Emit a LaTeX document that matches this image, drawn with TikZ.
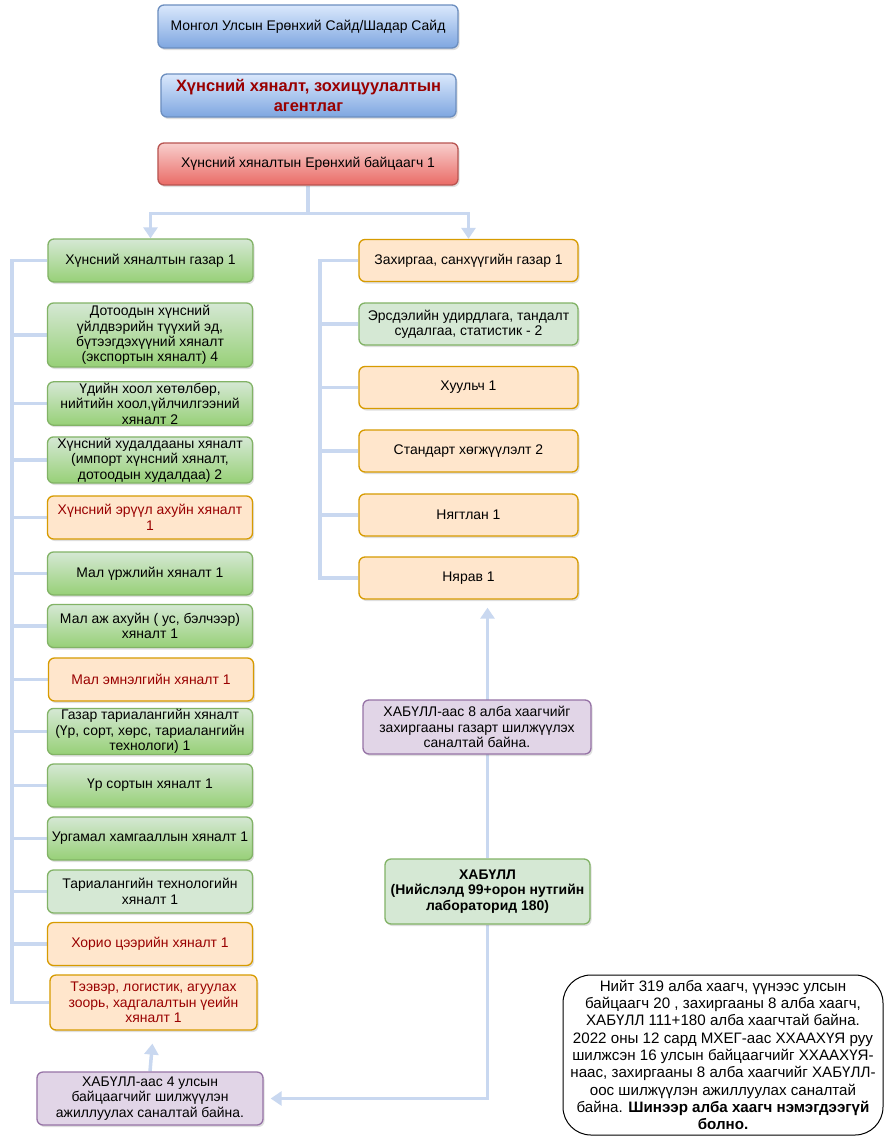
\documentclass[tikz,border=0pt]{standalone}
\usepackage{fontspec}
\setmainfont{Liberation Sans}
\usetikzlibrary{arrows.meta,shadows,backgrounds}
\definecolor{blueF}{HTML}{DAE8FC}
\definecolor{blueG}{HTML}{7EA6E0}
\definecolor{blueD}{HTML}{6C8EBF}
\definecolor{redF}{HTML}{F8CECC}
\definecolor{redG}{HTML}{EA6B66}
\definecolor{redD}{HTML}{B85450}
\definecolor{greenF}{HTML}{D5E8D4}
\definecolor{greenG}{HTML}{97D077}
\definecolor{greenD}{HTML}{82B366}
\definecolor{orF}{HTML}{FFE6CC}
\definecolor{orD}{HTML}{D79B00}
\definecolor{puF}{HTML}{E1D5E7}
\definecolor{puD}{HTML}{9673A6}
\definecolor{txred}{HTML}{990000}
\definecolor{connc}{HTML}{C9D8F0}
\begin{document}
\begin{tikzpicture}[x=1bp,y=-1bp,
  font=\fontsize{14}{15.5}\selectfont,
  box/.style={rounded corners=6bp, line width=1.3bp, align=center, inner sep=1bp,
    drop shadow={opacity=0.25, shadow xshift=1.5bp, shadow yshift=-2bp}},
  bluebox/.style={box, draw=blueD, top color=blueF, bottom color=blueG},
  redbox/.style={box, draw=redD, top color=redF, bottom color=redG},
  greenbox/.style={box, draw=greenD, top color=greenF, bottom color=greenG},
  lgreenbox/.style={box, draw=greenD, fill=greenF},
  orbox/.style={box, draw=orD, fill=orF},
  pubox/.style={box, draw=puD, fill=puF},
  lcol/.style={minimum width=205bp, minimum height=43bp},
  rcol/.style={minimum width=219bp, minimum height=42bp},
  conn/.style={draw=connc, line width=3.5bp},
  arr/.style={-{Triangle[width=14bp,length=11bp]}}
]
\useasboundingbox (0,0) rectangle (885,1137);

% top
\node[bluebox, minimum width=300bp, minimum height=43bp] (b1) at (308,26.5) {Монгол Улсын Ерөнхий Сайд/Шадар Сайд};
\node[bluebox, minimum width=295bp, minimum height=43bp, text=txred, font=\fontsize{16.5}{19.5}\selectfont\bfseries] (b2) at (308.5,95.5) {Хүнсний хяналт, зохицуулалтын\\агентлаг};
\node[redbox, minimum width=300bp, minimum height=42bp] (b3) at (308,164) {Хүнсний хяналтын Ерөнхий байцаагч 1};

% left column
\node[greenbox, lcol] (l1) at (150.5,260.5) {Хүнсний хяналтын газар 1};
\node[greenbox, lcol, minimum height=64bp] (l2) at (150,335) {Дотоодын хүнсний\\үйлдвэрийн түүхий эд,\\бүтээгдэхүүний хяналт\\(экспортын хяналт) 4};
\node[greenbox, lcol] (l3) at (150,403.5) {Үдийн хоол хөтөлбөр,\\нийтийн хоол,үйлчилгээний\\хяналт 2};
\node[greenbox, lcol, minimum height=44bp] (l4) at (150,460) {Хүнсний худалдааны хяналт\\(импорт хүнсний хяналт,\\дотоодын худалдаа) 2};
\node[orbox, lcol, text=txred] (l5) at (150,517.5) {Хүнсний эрүүл ахуйн хяналт\\1};
\node[greenbox, lcol] (l6) at (150,573.5) {Мал үржлийн хяналт 1};
\node[greenbox, lcol] (l7) at (150,626) {Мал аж ахуйн ( ус, бэлчээр)\\хяналт 1};
\node[orbox, lcol, text=txred] (l8) at (151,679.5) {Мал эмнэлгийн хяналт 1};
\node[greenbox, lcol] (l9) at (150,731.5) {Газар тариалангийн хяналт\\(Үр, сорт, хөрс, тариалангийн\\технологи) 1};
\node[greenbox, lcol] (l10) at (150,785.5) {Үр сортын хяналт 1};
\node[greenbox, lcol] (l11) at (150,838.5) {Ургамал хамгааллын хяналт 1};
\node[lgreenbox, lcol] (l12) at (150,891.5) {Тариалангийн технологийн\\хяналт 1};
\node[orbox, lcol, text=txred] (l13) at (150,944) {Хорио цээрийн хяналт 1};
\node[orbox, minimum width=207bp, minimum height=55bp, text=txred] (l14) at (153.5,1002.5) {Тээвэр, логистик, агуулах\\зоорь, хадгалалтын үеийн\\хяналт 1};
\node[pubox, minimum width=226bp, minimum height=53bp] (p4) at (150,1098.5) {ХАБҮЛЛ-аас 4 улсын\\байцаагчийг шилжүүлэн\\ажиллуулах саналтай байна.};

% right column
\node[orbox, rcol] (r1) at (468.5,260.5) {Захиргаа, санхүүгийн газар 1};
\node[lgreenbox, rcol] (r2) at (468.5,324) {Эрсдэлийн удирдлага, тандалт\\судалгаа, статистик - 2};
\node[orbox, rcol] (r3) at (468.5,387.5) {Хуульч 1};
\node[orbox, rcol] (r4) at (468.5,451) {Стандарт хөгжүүлэлт 2};
\node[orbox, rcol] (r5) at (468.5,515) {Нягтлан 1};
\node[orbox, rcol] (r6) at (468.5,578) {Нярав 1};

\node[pubox, minimum width=228bp, minimum height=54bp] (p8) at (477,727) {ХАБҮЛЛ-аас 8 алба хаагчийг\\захиргааны газарт шилжүүлэх\\саналтай байна.};
\node[lgreenbox, minimum width=205bp, minimum height=65bp, font=\fontsize{14}{15.5}\selectfont\bfseries] (hab) at (487.5,891.5) {ХАБҮЛЛ\\(Нийслэлд 99+орон нутгийн\\лабораторид 180)};

% note
\node[draw=black, line width=1bp, fill=white, rounded corners=28bp, minimum width=320bp, minimum height=160bp, align=center, inner sep=1bp, font=\fontsize{15.2}{17.4}\selectfont] (note) at (723,1055) {Нийт 319 алба хаагч, үүнээс улсын\\байцаагч 20 , захиргааны 8 алба хаагч,\\ХАБҮЛЛ 111+180 алба хаагчтай байна.\\2022 оны 12 сард МХЕГ-аас ХХААХҮЯ руу\\шилжсэн 16 улсын байцаагчийг ХХААХҮЯ-\\наас, захиргааны 8 алба хаагчийг ХАБҮЛЛ-\\оос шилжүүлэн ажиллуулах саналтай\\байна. \textbf{Шинээр алба хаагч нэмэгдээгүй}\\\textbf{болно.}};

\coordinate (ls) at (12,0);
\coordinate (rs) at (320,0);

\begin{pgfonlayer}{background}
\fill[white] (0,0) rectangle (885,1137);
% top split
\draw[conn] (b3.south) -- ++(0,28) coordinate (tj);
\draw[conn,arr] (tj) -| (l1.north);
\draw[conn,arr] (tj) -| (r1.north);
% left spine
\draw[conn] (l1.west) -| (ls |- l14.west) -- (l14.west);
\foreach \n in {l2,l3,l4,l5,l6,l7,l8,l9,l10,l11,l12,l13}
  \draw[conn] (ls |- \n.west) -- (\n.west);
% right spine
\draw[conn] (r1.west) -| (rs |- r6.west) -- (r6.west);
\foreach \n in {r2,r3,r4,r5}
  \draw[conn] (rs |- \n.west) -- (\n.west);
% HABULL to Nyarav
\draw[conn,arr,shorten >=8bp] (hab.north) -- (hab.north |- r6.south);
% HABULL to p4
\draw[conn,arr,shorten >=7bp] (hab.south) |- (p4.east);
% p4 to transport
\draw[conn,arr,shorten >=13bp] (p4.north) -- (l14.south);
\end{pgfonlayer}
\end{tikzpicture}
\end{document}
